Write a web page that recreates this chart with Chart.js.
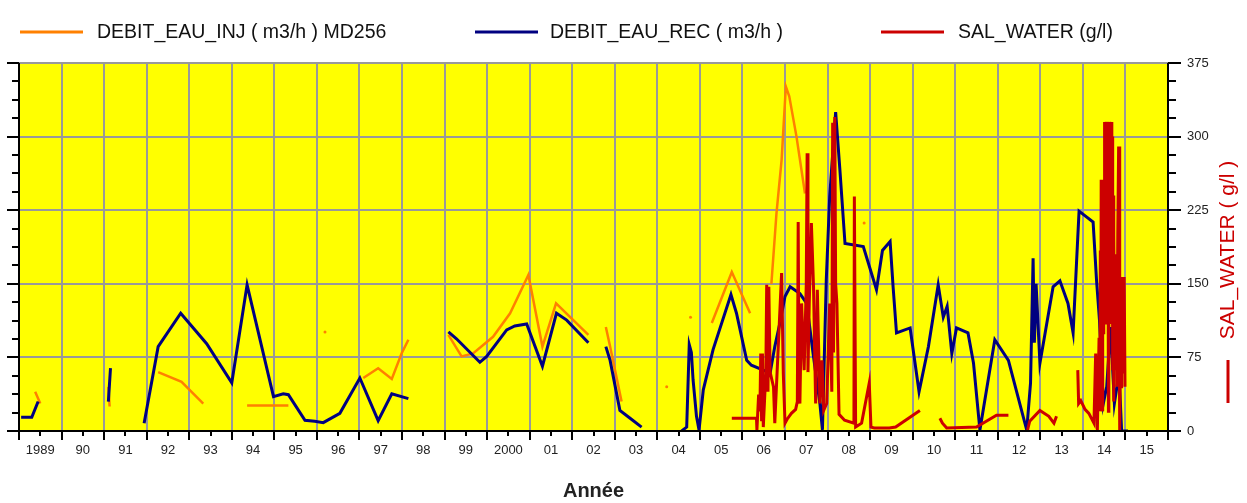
<!DOCTYPE html>
<html>
<head>
<meta charset="utf-8">
<script src="https://cdn.jsdelivr.net/npm/chart.js@4.4.1/dist/chart.umd.min.js"></script>
<style>
  html, body { margin: 0; padding: 0; background: #fff; }
  #wrap { position: relative; width: 1247px; height: 503px; }
</style>
</head>
<body>
<div id="wrap"><canvas id="chart" width="1247" height="503"></canvas></div>
<script>
// x tick labels, one per year (drawn at mid-year)
const yearLabels = ["1989", "90", "91", "92", "93", "94", "95", "96", "97", "98", "99", "2000",
  "01", "02", "03", "04", "05", "06", "07", "08", "09", "10", "11", "12", "13", "14", "15"];

// DEBIT_EAU_INJ (m3/h) MD256 - null = break in the curve
const injYears = [1989.38, 1989.50, null, 1991.10, 1991.13, null, 1992.27, 1992.82, 1993.33, null,
  1994.36, 1995.33, null, 1996.19, null, 1997.09, 1997.44, 1997.76, 1997.99, 1998.15, null,
  1999.09, 1999.40, 1999.67, 2000.14, 2000.54, 2000.97, 2001.30, 2001.62, 2002.38, null,
  2002.79, 2002.89, 2003.16, null, 2004.22, null, 2004.78, null, 2005.28, 2005.75, 2006.18, null,
  2006.68, 2006.80, 2006.92, 2007.02, 2007.10, 2007.27, 2007.47, null, 2008.86];
const injValues = [40, 28, null, 45, 25, null, 60, 50, 28, null,
  26, 26, null, 101, null, 54, 64, 53, 79, 93, null,
  98, 76, 79, 96, 120, 159, 86, 130, 98, null,
  106, 86, 30, null, 45, null, 116, null, 110, 162, 120, null,
  150, 222, 276, 351, 341, 300, 242, null, 212];

// DEBIT_EAU_REC (m3/h)
const recYears = [1989.05, 1989.30, 1989.45, null, 1991.10, 1991.15, null,
  1991.94, 1992.27, 1992.80, 1993.41, 1994.00, 1994.36, 1994.98, 1995.21, 1995.33, 1995.72, 1995.95,
  1996.15, 1996.54, 1997.01, 1997.44, 1997.76, 1998.15, null,
  1999.09, 1999.28, 1999.83, 1999.99, 2000.46, 2000.65, 2000.93, 2001.30, 2001.63, 2001.87, 2002.38, null,
  2002.79, 2002.89, 2003.12, 2003.36, 2003.63, null,
  2004.57, 2004.69, 2004.75, 2004.80, 2004.84, 2004.92, 2004.98, 2005.08, 2005.31, 2005.73, 2005.86,
  2006.10, 2006.21, 2006.49, 2006.65, 2006.76, 2006.88, 2007.00, 2007.12, 2007.35, 2007.51, 2007.66,
  2007.82, 2007.88, 2007.97, 2008.05, 2008.19, 2008.29, 2008.41, 2008.84, 2009.15, 2009.29, 2009.47,
  2009.54, 2009.62, 2009.94, 2010.15, 2010.37, 2010.60, 2010.72, 2010.81, 2010.92, 2011.03, 2011.30,
  2011.43, 2011.58, 2011.93, 2012.25, 2012.68, 2012.77, 2012.83, 2012.86, 2012.90, 2012.99, 2013.30,
  2013.46, 2013.65, 2013.77, 2013.85, 2013.91, 2014.24, 2014.32, 2014.39, 2014.48, 2014.56, 2014.65,
  2014.74, 2014.85, 2014.91, 2015.06];
const recValues = [14, 14, 30, null, 30, 64, null,
  8, 86, 120, 89, 49, 149, 35, 38, 37, 11, 10,
  8.5, 18, 54, 10.5, 38, 33, null,
  101, 94, 70, 76, 103, 107, 109, 66, 120, 113, 90, null,
  86, 72, 21, 13, 4, null,
  0, 4, 88, 80, 52, 15, 1, 42, 83, 139, 120,
  72, 67, 62, 59, 86, 110, 137, 147, 140, 130, 79,
  28, 1, 154, 239, 325, 266, 191, 188, 144, 184, 193,
  147, 100, 105, 40, 86, 149, 116, 127, 79, 105, 100,
  69, 1, 93, 72, 1, 49, 176, 90, 150, 69, 147,
  153, 130, 100, 171, 224, 213, 154, 113, 28, 45, 106,
  28, 59, 0, 0];

// SAL_WATER (g/l)
const salYears = [2005.75, 2006.33, 2006.34, 2006.38, 2006.41, 2006.43, 2006.45, 2006.47, 2006.49,
  2006.55, 2006.57, 2006.60, 2006.62, 2006.65, 2006.73, 2006.76, 2006.92, 2006.96, 2007.00, 2007.05,
  2007.15, 2007.25, 2007.29, 2007.31, 2007.33, 2007.35, 2007.39, 2007.45, 2007.50, 2007.52, 2007.54,
  2007.57, 2007.62, 2007.67, 2007.72, 2007.76, 2007.82, 2007.87, 2007.91, 2007.98, 2008.05, 2008.10,
  2008.12, 2008.14, 2008.17, 2008.19, 2008.22, 2008.27, 2008.40, 2008.62, 2008.63, 2008.66, 2008.80,
  2008.98, 2009.02, 2009.10, 2009.45, 2009.60, 2010.17, null,
  2010.64, 2010.70, 2010.80, 2011.50, 2011.97, 2012.25, null,
  2012.70, 2012.75, 2012.99, 2013.20, 2013.32, 2013.38, null,
  2013.88, 2013.90, 2013.95, 2014.05, 2014.14, 2014.26, 2014.30, 2014.34, 2014.38,
  2014.40, 2014.41, 2014.42, 2014.43, 2014.44, 2014.45, 2014.46, 2014.47, 2014.48, 2014.49,
  2014.50, 2014.51, 2014.52, 2014.53, 2014.54, 2014.55, 2014.56, 2014.57, 2014.58, 2014.59,
  2014.60, 2014.61, 2014.62, 2014.63, 2014.64, 2014.65, 2014.66, 2014.67, 2014.68, 2014.69,
  2014.70, 2014.71, 2014.72, 2014.73, 2014.74, 2014.76, 2014.78, 2014.80, 2014.82, 2014.84,
  2014.85, 2014.86, 2014.87, 2014.89, 2014.90, 2014.91, 2014.92, 2014.93, 2014.95, 2014.97, 2014.99];
const salValues = [13, 13, 1, 37, 20, 79, 10, 79, 4,
  60, 149, 40, 147, 60, 45, 8, 161, 59, 8, 12,
  18, 22, 30, 213, 40, 28, 130, 62, 150, 283, 60,
  130, 212, 147, 28, 144, 28, 72, 21, 28, 130, 40,
  314, 80, 320, 150, 130, 17, 11, 8, 239, 4, 8,
  49, 4, 3, 3, 4, 21, null,
  13, 8, 3, 4, 16, 16, null,
  1, 10, 21, 15, 8, 15, null,
  62, 28, 31, 22, 18, 8, 79, 1, 95,
  20, 184, 40, 256, 60, 256, 20, 184, 100, 256,
  160, 315, 110, 315, 180, 315, 109, 315, 200, 315,
  20, 315, 150, 315, 238, 315, 109, 315, 160, 300,
  62, 240, 30, 200, 109, 62, 180, 45, 200, 290,
  130, 290, 1, 157, 45, 157, 60, 157, 100, 157, 45];

function toPoints(xs, ys) {
  return xs.map((x, i) => ({ x: x === null ? NaN : x, y: ys[i] }));
}

// show a dot only where a value stands alone
function lonePoint(ctx) {
  const d = ctx.dataset.data;
  const i = ctx.dataIndex;
  const prev = d[i - 1], next = d[i + 1];
  const alone = (!prev || prev.y === null) && (!next || next.y === null);
  return alone ? 1.5 : 0;
}

const seriesColors = { inj: "#ff8000", rec: "#000080", sal: "#cc0000" };
const sans = "'Liberation Sans', Arial, sans-serif";

const frame = {
  id: "frame",
  beforeDraw(chart) {
    const { ctx, chartArea: a } = chart;
    ctx.save();
    ctx.fillStyle = "#ffff00";
    ctx.fillRect(a.left, a.top, a.right - a.left, a.bottom - a.top);
    ctx.restore();
  },
  afterDraw(chart) {
    const { ctx, chartArea: a } = chart;
    const x = chart.scales.x, y = chart.scales.y;
    ctx.save();
    ctx.strokeStyle = "#000";
    ctx.lineWidth = 2;
    ctx.beginPath();
    ctx.moveTo(a.left, a.top); ctx.lineTo(a.left, a.bottom);
    ctx.moveTo(a.right, a.top); ctx.lineTo(a.right, a.bottom);
    ctx.moveTo(a.left - 12, a.bottom); ctx.lineTo(a.right + 13, a.bottom);
    for (let v = 0; v <= 375; v += 18.75) {
      const py = Math.round(y.getPixelForValue(v));
      const major = v % 75 === 0;
      ctx.moveTo(a.left - (major ? 12 : 7), py); ctx.lineTo(a.left, py);
      ctx.moveTo(a.right, py); ctx.lineTo(a.right + (major ? 13 : 8), py);
    }
    for (let yr = 1989; yr <= 2016; yr += 0.5) {
      const px = Math.round(x.getPixelForValue(yr));
      const major = yr % 1 === 0;
      ctx.moveTo(px, a.bottom); ctx.lineTo(px, a.bottom + (major ? 9 : 5));
    }
    ctx.stroke();

    // legend along the top
    const items = [
      { ds: 0, x0: 20, tx: 97 },
      { ds: 1, x0: 475, tx: 550 },
      { ds: 2, x0: 881, tx: 958 }
    ];
    ctx.font = "19.5px " + sans;
    ctx.textBaseline = "middle";
    ctx.textAlign = "left";
    items.forEach(it => {
      const ds = chart.data.datasets[it.ds];
      ctx.strokeStyle = ds.borderColor;
      ctx.lineWidth = 3;
      ctx.beginPath();
      ctx.moveTo(it.x0, 32); ctx.lineTo(it.x0 + 63, 32);
      ctx.stroke();
      ctx.fillStyle = "#111";
      ctx.fillText(ds.label, it.tx, 33);
    });

    // right axis title, reading upwards, with its line marker
    ctx.strokeStyle = seriesColors.sal;
    ctx.lineWidth = 3;
    ctx.beginPath();
    ctx.moveTo(1228, 360); ctx.lineTo(1228, 403);
    ctx.stroke();
    ctx.translate(1228, 250);
    ctx.rotate(-Math.PI / 2);
    ctx.fillStyle = seriesColors.sal;
    ctx.textAlign = "center";
    ctx.font = "21px " + sans;
    ctx.fillText("SAL_WATER ( g/l )", 0, 0);
    ctx.restore();
  }
};

new Chart(document.getElementById("chart"), {
  type: "line",
  data: {
    datasets: [
      {
        label: "DEBIT_EAU_INJ ( m3/h ) MD256",
        data: toPoints(injYears, injValues),
        borderColor: seriesColors.inj,
        backgroundColor: seriesColors.inj,
        borderWidth: 2.5,
        pointRadius: lonePoint,
        pointBorderWidth: 0,
        order: 3
      },
      {
        label: "DEBIT_EAU_REC ( m3/h )",
        data: toPoints(recYears, recValues),
        borderColor: seriesColors.rec,
        backgroundColor: seriesColors.rec,
        borderWidth: 3,
        pointRadius: 0,
        order: 2
      },
      {
        label: "SAL_WATER (g/l)",
        data: toPoints(salYears, salValues),
        borderColor: seriesColors.sal,
        backgroundColor: seriesColors.sal,
        borderWidth: 3,
        pointRadius: 0,
        order: 1
      }
    ]
  },
  options: {
    responsive: false,
    animation: false,
    spanGaps: false,
    elements: { line: { tension: 0 } },
    layout: { padding: { top: 63, left: 0, right: 0, bottom: 0 } },
    plugins: { legend: { display: false }, tooltip: { enabled: false } },
    scales: {
      x: {
        type: "linear",
        position: "bottom",
        min: 1989,
        max: 2016,
        afterFit: s => { s.height = 72; },
        border: { display: false },
        grid: {
          drawTicks: false,
          lineWidth: 2,
          color: c => (c.tick && c.tick.value % 1 === 0) ? "#999999" : "rgba(0,0,0,0)"
        },
        ticks: {
          stepSize: 0.5,
          maxTicksLimit: 100,
          autoSkip: false,
          maxRotation: 0,
          padding: 12,
          color: "#222",
          font: { family: sans, size: 13 },
          callback: v => (v % 1 === 0.5) ? yearLabels[Math.floor(v) - 1989] : ""
        },
        title: {
          display: true,
          text: "Année",
          color: "#222",
          font: { family: sans, size: 20, weight: "bold" },
          padding: { top: 0, bottom: 0 }
        }
      },
      y: {
        position: "right",
        min: 0,
        max: 375,
        afterFit: s => { s.width = 79; },
        border: { display: false },
        grid: { drawTicks: false, lineWidth: 2, color: "#999999" },
        ticks: {
          stepSize: 75,
          padding: 19,
          color: "#222",
          font: { family: sans, size: 13 }
        }
      },
      yl: {
        position: "left",
        min: 0,
        max: 375,
        afterFit: s => { s.width = 19; },
        border: { display: false },
        grid: { drawOnChartArea: false, drawTicks: false },
        ticks: { display: false }
      }
    }
  },
  plugins: [frame]
});
</script>
</body>
</html>
